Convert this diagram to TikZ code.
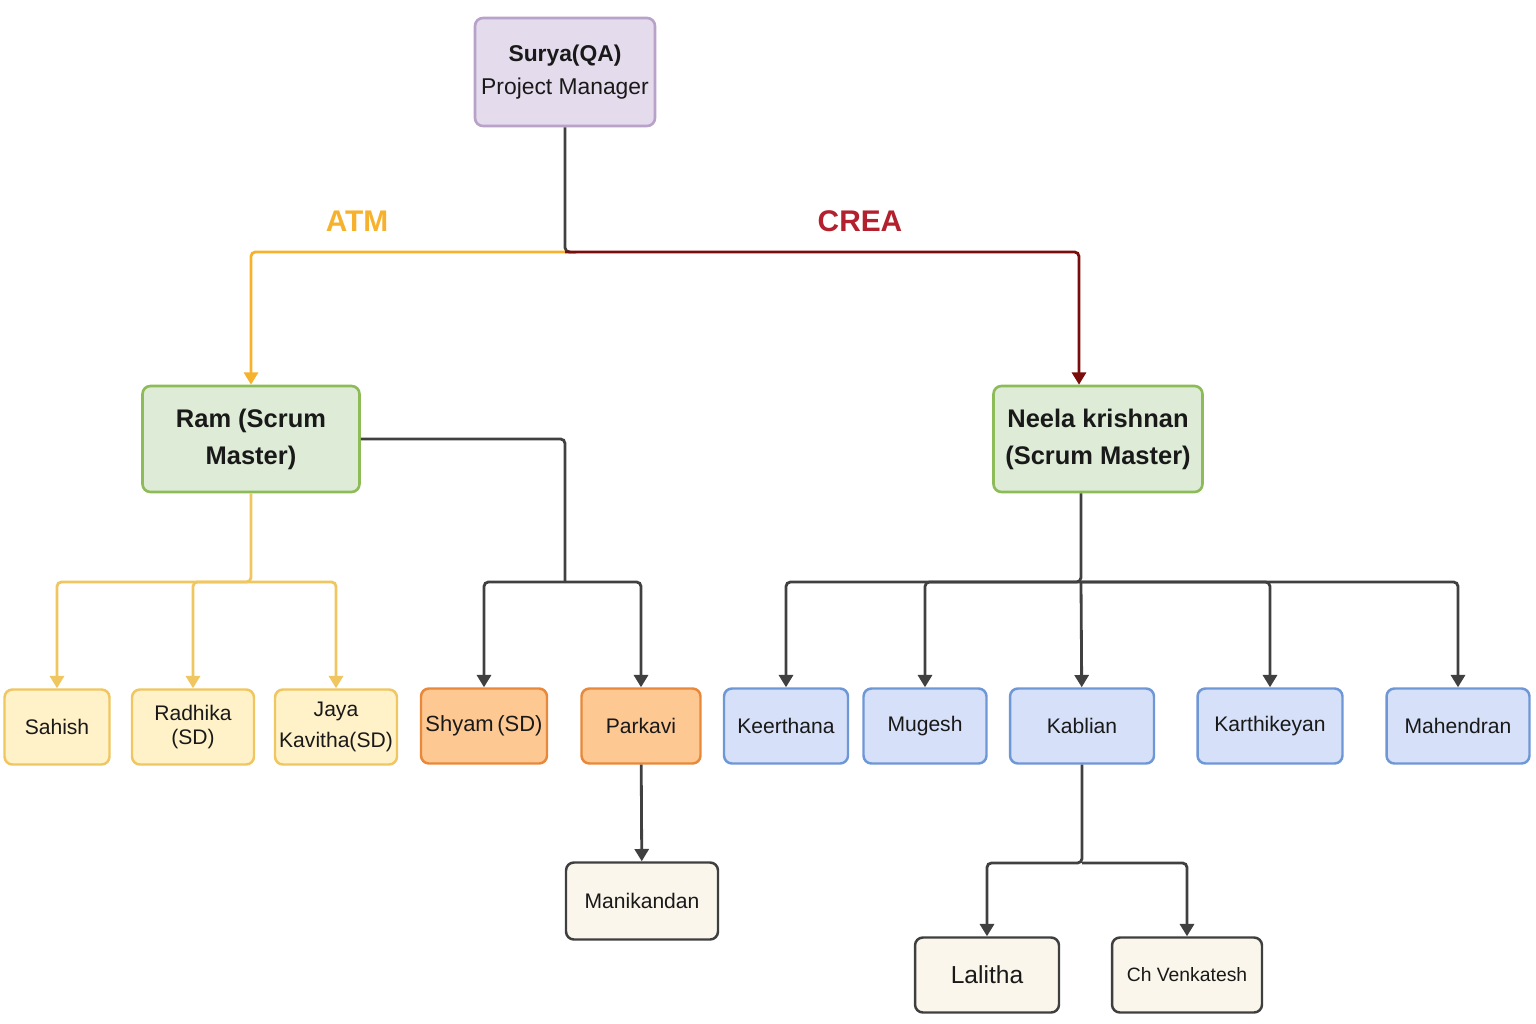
\documentclass[tikz,border=0pt]{standalone}
\usepackage{fontspec}
\setmainfont{Liberation Sans}
\usetikzlibrary{arrows.meta}

\definecolor{pmfill}{HTML}{E4DBEC}
\definecolor{pmline}{HTML}{B9A2C9}
\definecolor{smfill}{HTML}{DEEBD6}
\definecolor{smline}{HTML}{8CBB58}
\definecolor{yfill}{HTML}{FFF2C8}
\definecolor{yline}{HTML}{F0C660}
\definecolor{ofill}{HTML}{FDC892}
\definecolor{oline}{HTML}{E8883A}
\definecolor{bfill}{HTML}{D6E0F8}
\definecolor{bline}{HTML}{6E97D6}
\definecolor{cfill}{HTML}{FAF6EC}
\definecolor{cline}{HTML}{3F3F3F}
\definecolor{atmcol}{HTML}{F6B22C}
\definecolor{creacol}{HTML}{B3202E}
\definecolor{crealine}{HTML}{7A0C0C}
\definecolor{darkline}{HTML}{404040}

\tikzset{
  tip/.style={-{Triangle[length=7pt,width=8pt]}}
}

\begin{document}
\begin{tikzpicture}[x=0.02cm,y=-0.02cm]

      \useasboundingbox (0,0) rectangle (1536,1024);

      \begin{scope}[every node/.style={draw,rounded corners=4.5pt,line width=1.5pt,align=center,inner sep=0pt,text=black!90}]
        \node[fill=pmfill,draw=pmline,minimum width=3.6cm,minimum height=2.16cm,font=\fontsize{13}{19}\selectfont]
          (surya) at (565,72) {\textbf{Surya(QA)}\\Project Manager};
        \node[fill=smfill,draw=smline,minimum width=4.34cm,minimum height=2.12cm,font=\bfseries\fontsize{14.5}{21}\selectfont]
          (ram) at (251,439) {Ram (Scrum\\Master)};
        \node[fill=smfill,draw=smline,minimum width=4.18cm,minimum height=2.12cm,font=\bfseries\fontsize{14.5}{21}\selectfont]
          (neela) at (1098,439) {Neela krishnan\\(Scrum Master)};
      \end{scope}

      \begin{scope}[every node/.style={draw,rounded corners=4.5pt,line width=1.4pt,align=center,inner sep=0pt,
          minimum height=1.5cm,font=\fontsize{12}{14}\selectfont,text=black!90}]
        \node[fill=yfill,draw=yline,minimum width=2.1cm]  (sahish)  at (57,727)  {Sahish};
        \node[fill=yfill,draw=yline,minimum width=2.44cm,font=\fontsize{12}{13.5}\selectfont] (radhika) at (193,727) {Radhika\\(SD)};
        \node[fill=yfill,draw=yline,minimum width=2.44cm,font=\fontsize{12}{17.5}\selectfont]
          (jaya) at (336,727) {Jaya\\Kavitha(SD)};
        \node[fill=ofill,draw=oline,minimum width=2.52cm] (shyam)   at (484,726) {\fontsize{12.5}{14}\selectfont Shyam\,(SD)};
        \node[fill=ofill,draw=oline,minimum width=2.38cm] (parkavi) at (641,726) {Parkavi};
        \node[fill=bfill,draw=bline,minimum width=2.48cm] (keerthana)   at (786,726)  {Keerthana};
        \node[fill=bfill,draw=bline,minimum width=2.46cm] (mugesh)      at (925,726)  {Mugesh};
        \node[fill=bfill,draw=bline,minimum width=2.88cm] (kablian)     at (1082,726) {Kablian};
        \node[fill=bfill,draw=bline,minimum width=2.9cm]  (karthikeyan) at (1270,726) {Karthikeyan};
        \node[fill=bfill,draw=bline,minimum width=2.86cm] (mahendran)   at (1458,726) {Mahendran};
        \node[fill=cfill,draw=cline,minimum width=3.04cm,minimum height=1.54cm] (manikandan) at (642,901)  {Manikandan};
        \node[fill=cfill,draw=cline,minimum width=2.88cm,font=\fontsize{14}{16}\selectfont] (lalitha) at (987,975) {Lalitha};
        \node[fill=cfill,draw=cline,minimum width=3cm,font=\fontsize{11}{13}\selectfont]   (venkatesh) at (1187,975) {Ch Venkatesh};
      \end{scope}

      \begin{scope}[every node/.style={font=\bfseries\fontsize{17}{20}\selectfont}]
        \node[text=atmcol]  (atm)  at (357,221) {ATM};
        \node[text=creacol] (crea) at (860,221) {CREA};
      \end{scope}

      \coordinate (split)     at (565,252);
      \coordinate (ramsplit)  at (251,582);
      \coordinate (ramright)  at (565,582);
      \coordinate (neelasplit) at (1081,582);
      \coordinate (kabsplit)  at (1082,863);

      \begin{scope}[line width=1.6pt,rounded corners=2.5pt]
        \draw[darkline] (surya) -- (split) -- ++(4,0);
        \draw[atmcol,tip] (split) -| (ram);
        \draw[crealine,tip] (split) -| ([xshift=-0.38cm]neela.north);

        \draw[yline,tip] (ram) -- (ramsplit) -| (sahish);
        \draw[yline,tip] (ramsplit) -| (radhika);
        \draw[yline,tip] (ramsplit) -| (jaya);

        \draw[darkline] (ram.east) -| (ramright);
        \draw[darkline,tip] (ramright) -| (shyam);
        \draw[darkline,tip] (ramright) -| (parkavi);
        \draw[darkline,tip] (parkavi) -- (manikandan);

        \draw[darkline,tip] (neela.south -| neelasplit) -- (neelasplit) -| (keerthana);
        \draw[darkline,tip] (neelasplit) -| (mugesh);
        \draw[darkline,tip] (neelasplit) -- (kablian);
        \draw[darkline,tip] (neelasplit) -| (karthikeyan);
        \draw[darkline,tip] (neelasplit) -| (mahendran);

        \draw[darkline,tip] (kablian) -- (kabsplit) -| (lalitha);
        \draw[darkline,tip] (kabsplit) -| (venkatesh);
      \end{scope}

    \end{tikzpicture}
\end{document}
